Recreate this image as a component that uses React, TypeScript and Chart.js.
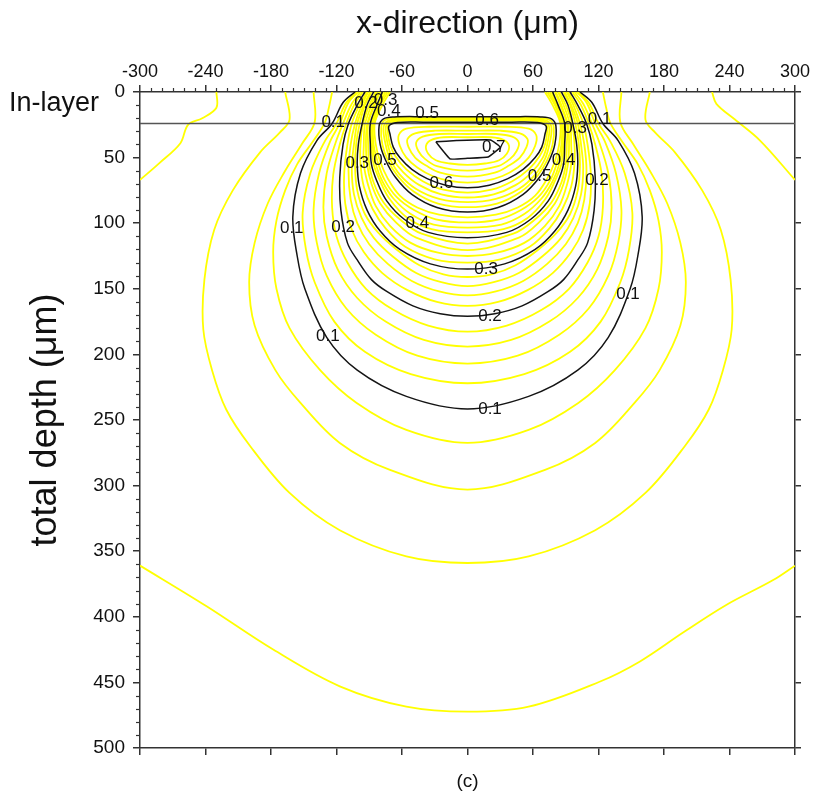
import React, { useEffect, useRef } from "react";
import { Chart, registerables } from "chart.js";

Chart.register(...registerables);

type P = [number, number];

const FONT = '"Liberation Sans", Arial, Helvetica, sans-serif';

// ---- axes ----
const xRange: P = [-300, 300];
const depthRange: P = [0, 500];
const xTickValues = [-300, -240, -180, -120, -60, 0, 60, 120, 180, 240, 300];
const depthTickValues = [0, 50, 100, 150, 200, 250, 300, 350, 400, 450, 500];
const layerDepth = 24;

// ---- contours (x in µm, depth in µm) ----
// U-shaped contours: right half, from the surface down to the bottom on the centre line
const u004: P[] = [[167,0],[163,21],[172,31],[190,46],[215,75],[232,105],[241,143],[242,181],[234,212],[221,242],[199,270],[163,305.6],[117,334],[56,354],[0,359]];
const u006: P[] = [[141,0],[140,23],[152,40],[167,60],[183,85],[195,115],[200,145],[195,178],[176,212],[153,237],[117,267.5],[71,288],[0,303]];
const u008: P[] = [[124,0],[127,12],[131,24],[141,37],[156,55],[167,75],[175,98],[178,122],[175,150],[163,180],[135,212],[101.5,237],[56,257.6],[0,267.5]];
const u010: P[] = [[103,0],[114,8],[124,24],[138,37],[153,62],[160,95],[156,125],[149,150],[129,187],[101,212],[56,232],[0,241.6]];
const u012: P[] = [[101,0],[111,8],[120,24],[131,38],[144,62],[151,92],[148,120],[140,145],[122,175],[94,198],[52,215],[0,222]];
const u014: P[] = [[100,0],[109,8],[117,24],[126,38],[136,62],[141,90],[138,115],[129,140],[111,165],[84,185],[46,201],[0,207]];
const u016: P[] = [[98,0],[106,9],[114,24],[121,39],[129,62],[132,88],[129,110],[119,135],[101,157],[75,175],[40,189],[0,194]];
const u018: P[] = [[96,0],[104,10],[111,24],[117,40],[123,63],[124,88],[120,110],[110,130],[93,150],[68,166],[36,178],[0,182.7]];
const u020: P[] = [[94,0],[101,10],[109,24],[114,40],[117,65],[116,90],[110,115],[101,128],[88,143],[74,152],[50,163],[25,169],[0,171]];
const u022: P[] = [[92,0],[99,10],[106,24],[110,40],[113,63],[112,85],[106,105],[95,122],[78,138],[55,151],[28,160],[0,163]];
const u024: P[] = [[91,0],[97,10],[103,24],[107,40],[109,60],[107,82],[101,100],[90,116],[73,131],[51,144],[26,152],[0,155]];
const u026: P[] = [[89,0],[95,10],[101,24],[104,40],[106,58],[104,78],[97,96],[86,111],[69,125],[47,138],[24,145],[0,148]];
const u028: P[] = [[88,0],[94,10],[99,25],[102,40],[103,57],[101,75],[94,93],[82,107],[65,120],[44,132],[22,139],[0,141]];
const u030: P[] = [[86,0],[92,10],[97,26],[100,40],[101,55],[99,72],[92,90],[80,106],[62,120],[34,131],[0,135]];
const u032: P[] = [[84,0],[90,10],[96,25],[98,40],[98,55],[95,72],[87,89],[75,104],[57,118],[30,127.5],[0,130]];
const u034: P[] = [[83,0],[88,10],[94,25],[95,40],[95,55],[91,71],[84,87],[71,102],[52,115],[27,122.5],[0,125]];
const u036: P[] = [[81,0],[86,10],[92,25],[93,40],[92,55],[88,70],[80,85],[66,99],[47,111],[0,120.5]];
const u038: P[] = [[80,0],[85,10],[91,24],[91,40],[90,55],[86,69],[77,84],[62,97],[42,108],[0,115.5]];
const u040: P[] = [[78,0],[83,10],[89,24],[89,40],[88,55],[83,68],[74,83],[58,97],[36,107],[0,111]];
const u042: P[] = [[77,0],[82,10],[88,24],[88,40],[86,55],[80,68],[71,82],[55,96],[33,104.5],[0,107]];
const u044: P[] = [[75,0],[81,10],[87,24],[87,40],[84,55],[78,68],[68,81],[52,93],[31,101],[0,103.3]];
const u046: P[] = [[73,0],[80,10],[86,24],[86,40],[82,54],[76,67],[65,80],[49,90],[29,97],[0,99.4]];
const u048: P[] = [[71,0],[78,10],[85,24],[84,40],[80,53],[73,66],[62,79],[46,88],[26,93.5],[0,95.5]];

// closed loops round the maximum: right half, from the top on the centre line to the bottom
const loop050: P[] = [[0,18.8],[40,18.8],[67,19],[77,20.5],[81,26],[80,40],[75,52],[66,65],[51,78],[28,88],[0,91.5]];
const loop052: P[] = [[0,19.5],[40,19.5],[66,19.8],[76,21.5],[79,27],[78,40],[73,52],[64,64],[49,76],[27,85],[0,87.8]];
const loop054: P[] = [[0,20.3],[40,20.3],[65,20.6],[74,22.5],[77,28],[75,40],[71,51],[62,63],[47,74],[26,81.5],[0,84]];
const loop056: P[] = [[0,21],[40,21],[64,21.3],[73,23.5],[75,29],[73,40],[69,50],[59,61],[44,71],[24,78],[0,80.4]];
const loop058: P[] = [[0,21.8],[40,21.8],[63,22],[72,24.5],[73,30],[71,40],[66,49],[56,59],[41,68],[22,74.5],[0,76.7]];
const loop060: P[] = [[0,23],[40,23],[64,23.3],[72,26],[71,32],[68,42],[62,50],[51,59],[37,66],[20,71],[0,73]];
const loop062: P[] = [[0,26.5],[35,26.5],[56,28],[63,33],[62,41],[56,50],[46,57.5],[32,64],[16,67.8],[0,69]];
const loop064: P[] = [[0,29.5],[30,29.5],[48,31.5],[55,36],[54,42],[48,50],[38,56],[25,61.5],[0,64.5]];
const loop066: P[] = [[0,32],[26,32],[41,34],[47,38.5],[45,45],[39,51],[28,56.5],[0,60]];
const loop068: P[] = [[0,34.5],[22,34.5],[33,36.5],[38,41],[36,47],[29,52],[16,54.5],[0,55.5]];
// innermost 0.7 contour (whole outline)
const c070: P[] = [[-29,38],[-10,37],[21,36.5],[30,42],[19,49.5],[0,50.5],[-16,51],[-29,38]];

// 0.02 contour: pieces that leave the plotted window
const c002Left: P[] = [[-230,0],[-230,12],[-243,20],[-256,25],[-263,39],[-282,54],[-300,67]];
const c002Right: P[] = [[224,0],[228,9],[245,21],[268,37],[300,67]];
const c002Bottom: P[] = [[-300,361],[-239,392],[-178,425],[-117,453],[-56,468.5],[0,472.3],[56,468.5],[121,449.5],[158,434],[197.5,412],[237,391],[280,372],[300,361]];

// contour labels
const labelText = ["0.2","0.3","0.4","0.5","0.6","0.7","0.1","0.1","0.3","0.3","0.5","0.4","0.5","0.2","0.6","0.1","0.2","0.4","0.3","0.1","0.2","0.1","0.1"];
const labelX = [-93,-75,-72,-37,18,24,-123,121,98.5,-101,-75.6,88,66,118.6,-24,-161,-114,-46,17,147,20.6,-128,20.6];
const labelDepth = [8.4,6,15,16,21.3,42,23,20.6,27.5,54,52,52,64,67,69.4,103.7,103,100,135,154,171,186,241.6];

const BLACK = "#141414";
const YELLOW = "#ffff00";

const toPts = (list: P[]) => list.map(([x, d]) => ({ x, y: d }));
const mirrorU = (half: P[]) => [
  ...half.map(([x, d]) => ({ x: -x, y: d })),
  ...half.slice(0, -1).reverse().map(([x, d]) => ({ x, y: d })),
];
const mirrorLoop = (half: P[]) => [
  ...half.map(([x, d]) => ({ x, y: d })),
  ...half.slice(0, -1).reverse().map(([x, d]) => ({ x: -x, y: d })),
];

const line = (data: { x: number; y: number }[], color: string, width: number, tension = 0.35) => ({
  data,
  showLine: true,
  borderColor: color,
  borderWidth: width,
  pointRadius: 0,
  pointHoverRadius: 0,
  fill: false,
  tension,
});

const overlayPlugin = {
  id: "overlay",
  afterDatasetsDraw(chart: any) {
    const { ctx, scales } = chart;
    const x = scales.x, y = scales.y;
    ctx.save();
    ctx.font = `17px ${FONT}`;
    ctx.fillStyle = "#111";
    ctx.textAlign = "center";
    ctx.textBaseline = "middle";
    labelText.forEach((t, i) => {
      ctx.fillText(t, x.getPixelForValue(labelX[i]), y.getPixelForValue(labelDepth[i]));
    });
    ctx.restore();
  },
  afterDraw(chart: any) {
    const { ctx, chartArea, scales } = chart;
    const x = scales.x, y = scales.y;
    ctx.save();
    ctx.strokeStyle = "#333";
    ctx.lineWidth = 1.2;
    for (let v = xRange[0]; v <= xRange[1]; v += 10) {
      if (v % 60 === 0) continue;
      const px = Math.round(x.getPixelForValue(v)) + 0.5;
      ctx.beginPath();
      ctx.moveTo(px, chartArea.top);
      ctx.lineTo(px, chartArea.top - 4);
      ctx.stroke();
    }
    for (let v = depthRange[0]; v <= depthRange[1]; v += 10) {
      if (v % 50 === 0) continue;
      const py = Math.round(y.getPixelForValue(v)) + 0.5;
      ctx.beginPath();
      ctx.moveTo(chartArea.left, py);
      ctx.lineTo(chartArea.left - 4, py);
      ctx.stroke();
    }
    ctx.fillStyle = "#111";
    ctx.font = `27px ${FONT}`;
    ctx.textAlign = "left";
    ctx.textBaseline = "middle";
    ctx.fillText("In-layer", 9, y.getPixelForValue(8.5));
    ctx.font = `19px ${FONT}`;
    ctx.textAlign = "center";
    ctx.textBaseline = "alphabetic";
    ctx.fillText("(c)", x.getPixelForValue(0), 787);
    ctx.restore();
  },
};

export default function App() {
  const ref = useRef<HTMLCanvasElement | null>(null);

  useEffect(() => {
    if (!ref.current) return;

    const black = [
      line(mirrorU(u010), BLACK, 1.5),
      line(mirrorU(u020), BLACK, 1.5),
      line(mirrorU(u030), BLACK, 1.5),
      line(mirrorU(u040), BLACK, 1.5),
      line(mirrorLoop(loop050), BLACK, 1.5),
      line(mirrorLoop(loop060), BLACK, 1.5),
      line(toPts(c070), BLACK, 1.5, 0.1),
    ];
    const layer = [
      line([{ x: xRange[0], y: layerDepth }, { x: xRange[1], y: layerDepth }], "#555", 1.3, 0),
    ];
    const yellowU = [u004, u006, u008, u012, u014, u016, u018, u022, u024, u026, u028, u032, u034, u036, u038, u042, u044, u046, u048];
    const yellowLoops = [loop052, loop054, loop056, loop058, loop062, loop064, loop066, loop068];
    const yellow = [
      ...yellowU.map((h) => line(mirrorU(h), YELLOW, 1.8)),
      ...yellowLoops.map((h) => line(mirrorLoop(h), YELLOW, 1.8)),
      line(toPts(c002Left), YELLOW, 1.8),
      line(toPts(c002Right), YELLOW, 1.8),
      line(toPts(c002Bottom), YELLOW, 1.8),
    ];

    const tickFont = { family: FONT, size: 18 };
    const axisColor = "#333";
    const gridOpts = (len: number) => ({
      drawOnChartArea: false,
      drawTicks: true,
      tickLength: len,
      color: axisColor,
      tickColor: axisColor,
      lineWidth: 1.5,
      tickWidth: 1.5,
    });
    const border = { display: true, color: axisColor, width: 1.5 };

    const chart = new Chart(ref.current, {
      type: "scatter",
      data: { datasets: [...black, ...layer, ...yellow] as any },
      options: {
        animation: false,
        responsive: false,
        devicePixelRatio: 1,
        events: [],
        layout: { padding: 0 },
        plugins: { legend: { display: false }, tooltip: { enabled: false }, title: { display: false } },
        scales: {
          x: {
            type: "linear",
            position: "top",
            min: xRange[0],
            max: xRange[1],
            afterBuildTicks: (s: any) => { s.ticks = xTickValues.map((v) => ({ value: v })); },
            afterFit: (s: any) => { s.height = 92; },
            ticks: { font: tickFont, color: "#111", padding: 2, maxRotation: 0, autoSkip: false },
            grid: gridOpts(7),
            border,
            title: { display: true, text: "x-direction (μm)", color: "#111", font: { family: FONT, size: 32 }, padding: { top: 5, bottom: 0 } },
          },
          y: {
            type: "linear",
            position: "left",
            reverse: true,
            min: depthRange[0],
            max: depthRange[1],
            afterBuildTicks: (s: any) => { s.ticks = depthTickValues.map((v) => ({ value: v })); },
            afterFit: (s: any) => { s.width = 140; },
            ticks: { font: { family: FONT, size: 19 }, color: "#111", padding: 8, autoSkip: false },
            grid: gridOpts(7),
            border,
            title: { display: true, text: "total depth (μm)", color: "#111", font: { family: FONT, size: 36 }, padding: { top: 24, bottom: 0 } },
          },
          x2: {
            type: "linear",
            position: "bottom",
            min: xRange[0],
            max: xRange[1],
            afterBuildTicks: (s: any) => { s.ticks = xTickValues.map((v) => ({ value: v })); },
            afterFit: (s: any) => { s.height = 46; },
            ticks: { display: false },
            grid: gridOpts(7),
            border,
          },
          y2: {
            type: "linear",
            position: "right",
            reverse: true,
            min: depthRange[0],
            max: depthRange[1],
            afterBuildTicks: (s: any) => { s.ticks = depthTickValues.map((v) => ({ value: v })); },
            afterFit: (s: any) => { s.width = 19; },
            ticks: { display: false },
            grid: gridOpts(6),
            border,
          },
        },
      } as any,
      plugins: [overlayPlugin],
    });
    return () => chart.destroy();
  }, []);

  return (
    <div style={{ position: "absolute", left: 0, top: 0, width: 814, height: 794, background: "#fff" }}>
      <canvas ref={ref} width={814} height={794} style={{ width: 814, height: 794, display: "block" }} />
    </div>
  );
}
